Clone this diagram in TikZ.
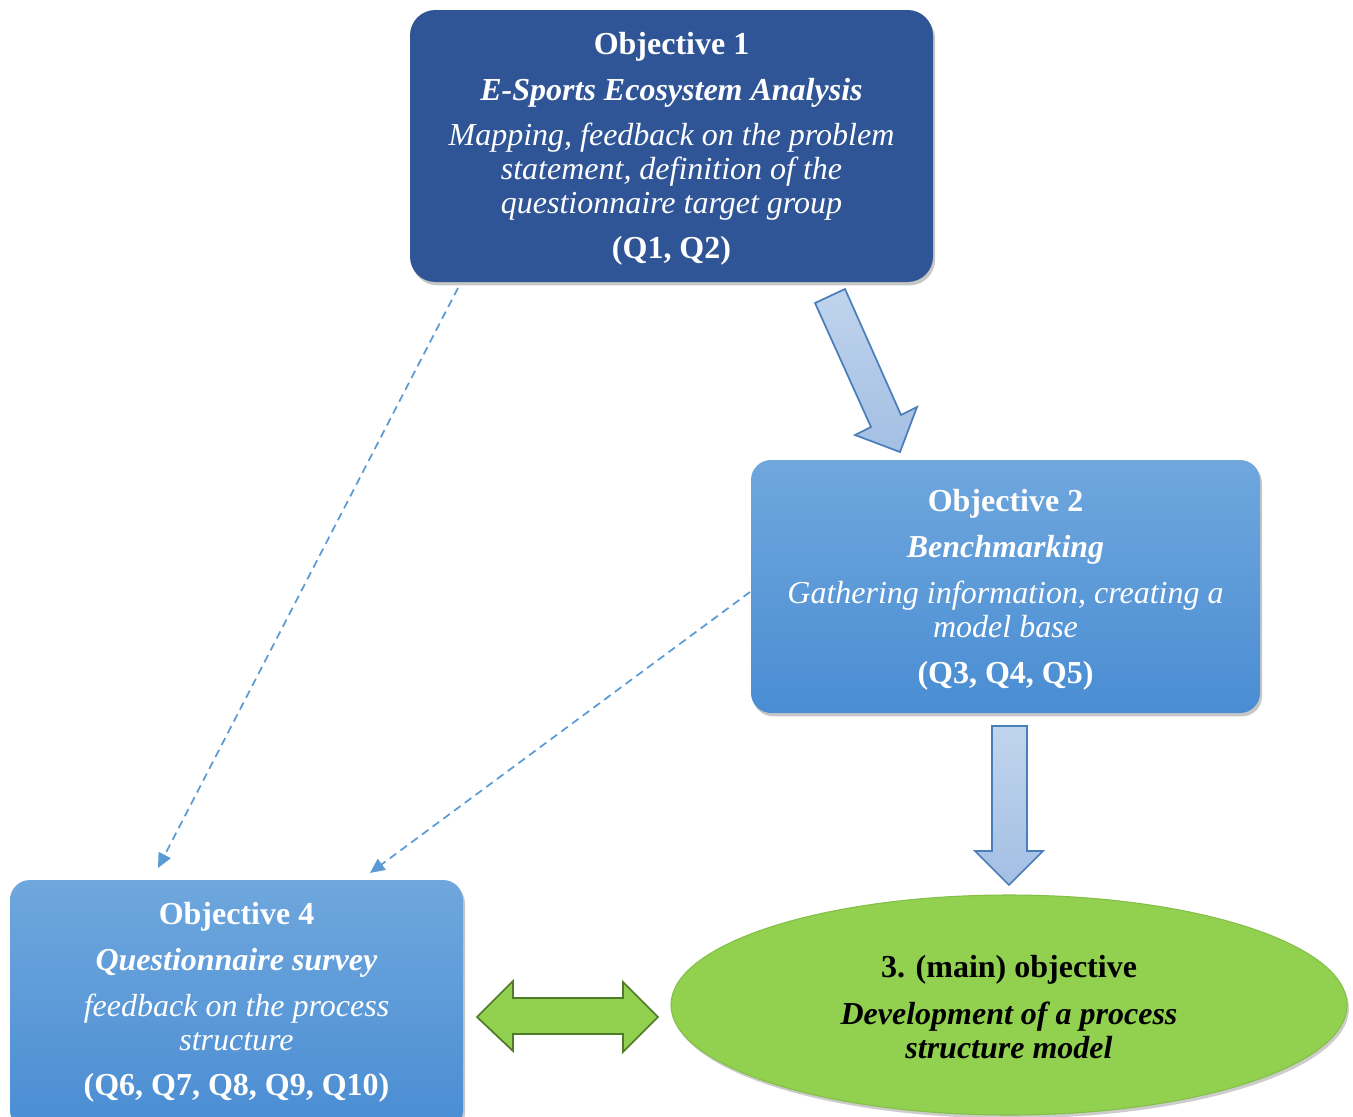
\documentclass[tikz,border=0pt]{standalone}
\usepackage{fontspec}
\setmainfont{Liberation Serif}
\usetikzlibrary{shapes.geometric,arrows.meta,shadows,calc}
\definecolor{objdark}{HTML}{2F5597}
\definecolor{boxtop}{HTML}{6FA7DD}
\definecolor{boxbot}{HTML}{4A8DD3}
\definecolor{dashblue}{HTML}{5B9BD5}
\definecolor{arrfillA}{HTML}{C0D4ED}
\definecolor{arrfillB}{HTML}{A3BFE3}
\definecolor{arrline}{HTML}{4A7EBB}
\definecolor{grn}{HTML}{92D050}
\definecolor{grnedge}{HTML}{84BF48}
\definecolor{grnline}{HTML}{4F7A28}
\begin{document}
\begin{tikzpicture}[x=0.75pt,y=-0.75pt,
  shadowed/.style={drop shadow={shadow xshift=1.5pt,shadow yshift=-2.5pt,opacity=0.22,fill=black}},
  darkbox/.style={shadowed,rectangle,rounded corners=19pt,fill=objdark,draw=none,inner sep=0pt},
  lightbox/.style={shadowed,rectangle,rounded corners=15pt,top color=boxtop,bottom color=boxbot,draw=none,inner sep=0pt},
  txt/.style={align=center,inner sep=0pt,font=\fontsize{24}{25.5}\selectfont},
  dashconn/.style={draw=dashblue,line width=1.3pt,dash pattern=on 6pt off 4pt,-{Triangle[length=11pt,width=10pt]}},
  blockarrow/.style={draw=arrline,line width=1.3pt,top color=arrfillA,bottom color=arrfillB,line join=miter},
  greenarrow/.style={draw=grnline,line width=1.3pt,fill=grn,line join=miter}]
\fill[white] (0,0) rectangle (1353,1117);
\useasboundingbox (0,0) rectangle (1353,1117);

% boxes
\node[darkbox,minimum width=392.25pt,minimum height=204pt] (obj1) at (671.5,146) {};
\node[lightbox,minimum width=381.75pt,minimum height=189.75pt] (obj2) at (1005.5,586.5) {};
\node[lightbox,minimum width=339.75pt,minimum height=187.5pt] (obj4) at (236.5,1005) {};
\node[ellipse,fill=grn,draw=grnedge,line width=0.8pt,minimum width=507pt,minimum height=165pt,inner sep=0pt,
  drop shadow={shadow xshift=1.5pt,shadow yshift=-2.5pt,opacity=0.2,fill=black}] (obj3) at (1009,1005) {};

% texts
\node[txt,text=white] (t1) at (671.5,149) {\textbf{Objective 1}\\[8.5pt]
  \textbf{\textit{E-Sports Ecosystem Analysis}}\\[8.5pt]
  \textit{Mapping, feedback on the problem}\\
  \textit{statement, definition of the}\\
  \textit{questionnaire target group}\\[8.5pt]
  \textbf{(Q1, Q2)}};
\node[txt,text=white] (t2) at (1005.5,589.5) {\textbf{Objective 2}\\[9pt]
  \textbf{\textit{Benchmarking}}\\[9pt]
  \textit{Gathering information, creating a}\\
  \textit{model base}\\[9pt]
  \textbf{(Q3, Q4, Q5)}};
\node[txt,text=white] (t4) at (236.5,1002.5) {\textbf{Objective 4}\\[9pt]
  \textbf{\textit{Questionnaire survey}}\\[9pt]
  \textit{feedback on the process}\\
  \textit{structure}\\[8.5pt]
  \textbf{(Q6, Q7, Q8, Q9, Q10)}};
\node[txt,text=black] (t3) at (1009,1007) {\textbf{3. (main) objective}\\[9.5pt]
  \textbf{\textit{Development of a process}}\\
  \textbf{\textit{structure model}}};

% dashed connectors
\coordinate (d1s) at (458,288);
\coordinate (d1e) at (158,868);
\coordinate (d2s) at (750,592);
\coordinate (d2e) at (370,873);
\draw[dashconn] (d1s) -- (d1e);
\draw[dashconn] (d2s) -- (d2e);

% block arrow obj1 -> obj2
\path[blockarrow] (815,303) -- (845,289) -- (901,415) -- (917,407) -- (900,452) -- (855,435) -- (871,427) -- cycle;
% block arrow obj2 -> obj3
\path[blockarrow] (992,726) -- (1027,726) -- (1027,851) -- (1043,851) -- (1009,885) -- (975,851) -- (992,851) -- cycle;
% double arrow obj4 <-> obj3
\path[greenarrow] (477,1017) -- (513,981) -- (513,998) -- (623,998) -- (623,982) -- (658,1017) -- (623,1052) -- (623,1034) -- (513,1034) -- (513,1051) -- cycle;
\end{tikzpicture}
\end{document}
